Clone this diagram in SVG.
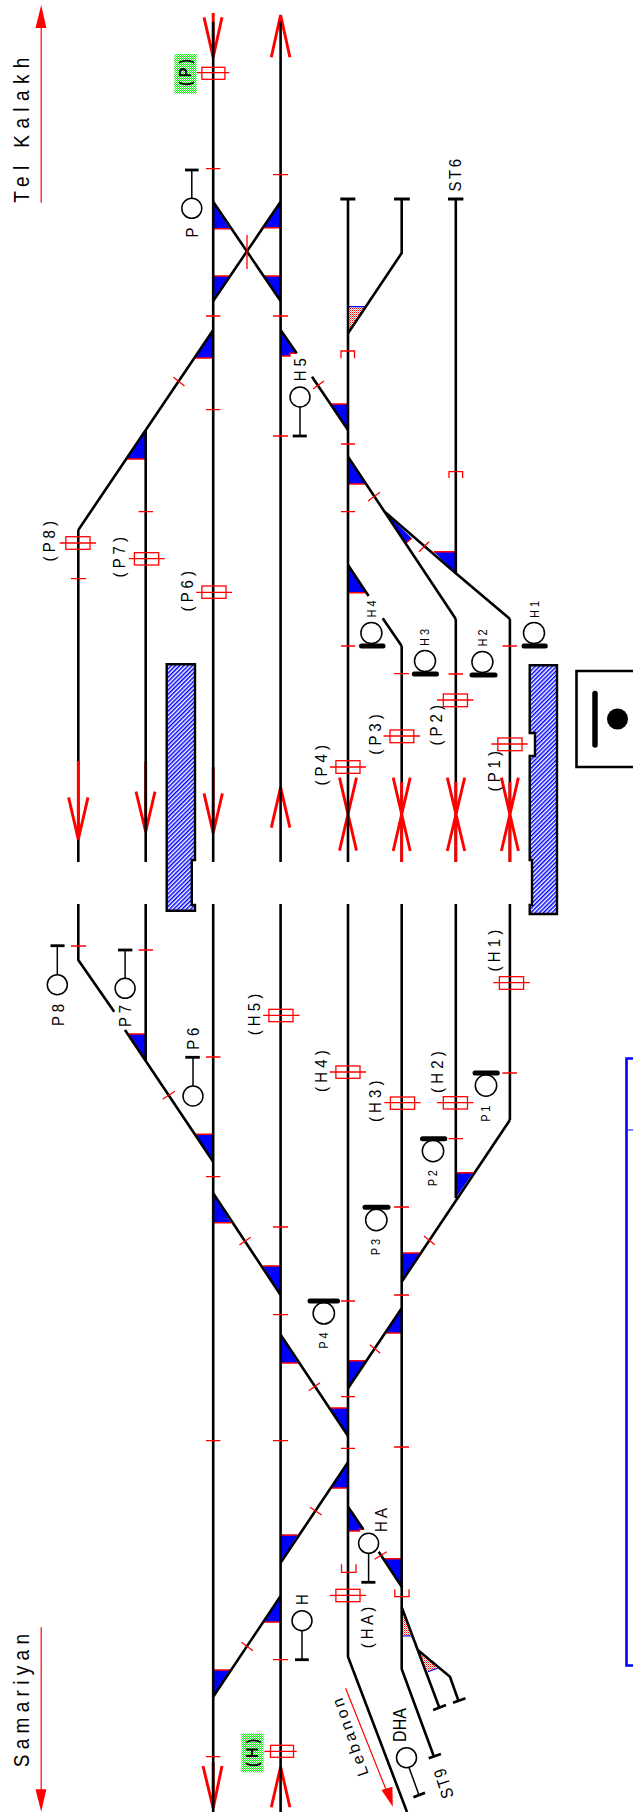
<svg xmlns="http://www.w3.org/2000/svg" width="633" height="1812" viewBox="0 0 633 1812">
<style>
.t{fill:none;stroke:#000;stroke-width:2.6;stroke-linejoin:miter}
.r{fill:none;stroke:#f00;stroke-width:1.3}
.a{fill:none;stroke:#f00;stroke-width:2.9}
.rf{fill:#f00;stroke:none}
.tri{fill:#00f;stroke:none}
.base{fill:none;stroke:#f00;stroke-width:1.4}
.bb{fill:none;stroke:#00f;stroke-width:1.2}
.ph{fill:url(#pink)}
.rc{fill:none;stroke:#f00;stroke-width:1.3}
.s{fill:#fff;stroke:#000;stroke-width:1.5}
.st{fill:none;stroke:#000;stroke-width:1.5}
.bar{fill:none;stroke:#000;stroke-width:2.8}
.bar5{fill:none;stroke:#000;stroke-width:5;stroke-linecap:round}
.pl{fill:url(#hatch);stroke:#000;stroke-width:2.4}
text{font-family:"Liberation Sans",Arial,sans-serif;fill:#000;text-anchor:middle;white-space:pre}
.l{font-size:15px}
.m{font-size:11px}
.big{font-size:19px}
.bd{font-size:14.5px;font-weight:bold}
</style>
<defs>
<pattern id="hatch" width="3" height="3" patternUnits="userSpaceOnUse" patternTransform="rotate(45)"><rect width="3" height="3" fill="#fff"/><rect width="1.5" height="3" fill="#00f"/></pattern>
<pattern id="pink" width="2" height="2" patternUnits="userSpaceOnUse"><rect width="2" height="2" fill="#fff"/><rect width="1" height="1" fill="#f00"/><rect x="1" y="1" width="1" height="1" fill="#f88"/></pattern>
<pattern id="green" width="2" height="2" patternUnits="userSpaceOnUse"><rect width="2" height="2" fill="#fff"/><rect width="1" height="1" fill="#0f0"/><rect x="1" y="1" width="1" height="1" fill="#0f0"/></pattern>
</defs>

<g id="platforms">
<path id="platform-north" class="pl" d="M166.7 664.3H195V860H191.8V905H195V910.7H166.7Z"/>
<path id="platform-south" class="pl" d="M529.7 665.3H557V914H529.7V905H532V860H529.7V756H535V733H529.7Z"/>
</g>

<g id="station-box">
<path d="M633 671H576.5V767H633" fill="none" stroke="#000" stroke-width="2.6"/>
<path d="M595 693.5V745" fill="none" stroke="#000" stroke-width="5.5" stroke-linecap="round"/>
<circle cx="617.5" cy="719" r="10.5" fill="#000"/>
</g>

<g id="legend-frame">
<path d="M633 1058.5H626.5V1665.5H633" fill="none" stroke="#00f" stroke-width="2.6"/>
<path d="M628 1130H633" fill="none" stroke="#00f" stroke-width="1"/>
</g>

<g id="switch-marks">
<path class="tri" d="M213.2 203V228.7H230Z"/>
<path class="tri" d="M280.6 203V227.7H264Z"/>
<path class="tri" d="M213.2 300V276H230Z"/>
<path class="tri" d="M280.6 300V276H264Z"/>
<path class="tri" d="M213.2 330V358H195Z"/>
<path class="tri" d="M145.7 430V459H127Z"/>
<path class="tri" d="M280.6 330L296.7 353.3H290V356H280.6Z"/>
<path class="tri" d="M348 430V404H331Z"/>
<path class="tri" d="M348 457.3V484H365.4Z"/>
<path class="tri" d="M383.5 510.7L411.8 538.3L405.7 543.3Z"/>
<path class="tri" d="M455.8 573.3V551.7H434Z"/>
<path class="tri" d="M348 565V592.7H365.4Z"/>
<path class="tri" d="M145.7 1060V1034H128.4Z"/>
<path class="tri" d="M213.2 1161.7V1134.3H195.8Z"/>
<path class="tri" d="M455.8 1198V1172.7H473Z"/>
<path class="tri" d="M213.2 1193.3V1222.7H231Z"/>
<path class="tri" d="M280.6 1295V1266H263Z"/>
<path class="tri" d="M401.7 1281.7V1253H419.8Z"/>
<path class="tri" d="M401.7 1308.3V1333H386.3Z"/>
<path class="tri" d="M348 1388.3V1360.7H365.4Z"/>
<path class="tri" d="M280.6 1334.7V1363H298Z"/>
<path class="tri" d="M348 1436V1408H330.2Z"/>
<path class="tri" d="M348 1462.3V1488H331Z"/>
<path class="tri" d="M280.6 1562.7V1535H297.5Z"/>
<path class="tri" d="M348 1507L363.3 1529.3H359.5V1531H348Z"/>
<path class="tri" d="M401.7 1586.7V1558.7H383.5Z"/>
<path class="tri" d="M280.6 1596V1622H263.2Z"/>
<path class="tri" d="M213.2 1696.7V1670H230Z"/>
<path class="ph" d="M348 333V306.7H365Z"/>
<path class="ph" d="M401.7 1607.3V1636H411Z"/>
<path class="ph" d="M417.8 1650L428 1671.7L437.6 1668.3Z"/>
<path class="base" d="M213 228.7H230M264 227.7H281M213 276H230M264 276H281M195 358H213M127 459H146M281 356H290V353.3H296.7M331 404H348M348 484H365.4M405.7 543.3L411.8 538.3M434 551.7H456M348 592.7H365.4M128.4 1034H145.7L128.4 1034M213 1134.3H195.8M455.8 1172.7H473M213 1222.7H231M263 1266H281M401.7 1253H419.8M386.3 1333H402M348 1360.7H365.4M280.6 1363H298M330.2 1408H348M331 1488H348M280.6 1535H297.5M383.5 1558.7H402M263.2 1622H281M213 1670H230M348 1531H359.5V1529.3H363.3L348 1507M128.4 1034L145.7 1060"/>
<path class="bb" d="M348 306.7H365M401.7 1636H411M428 1671.7L437.6 1668.3"/>
</g>

<g id="arrows-under">
<path class="a" d="M213.2 13V57M204 17.3L213.2 57.3L222 17.3"/>
<path class="a" d="M271.3 57.3L280.6 15L289.9 57.3"/>
<path class="a" d="M145.7 762V831M136 791.7L145.7 831.7L155 791.7"/>
<path class="a" d="M213.2 767V833M204 793.3L213.2 833L222.4 793.3"/>
<path class="a" d="M271.3 827.7L280.6 787.3L289.9 827.7"/>
<path class="a" d="M213.2 1762V1808M203 1766L213.2 1808.3L222 1766"/>
<path class="a" d="M271.3 1807.3L280.6 1766.7L289.9 1807.3"/>
<path class="a" d="M339.5 777.7L356.5 850.7M356.5 777.7L339.5 850.7"/>
</g>

<g id="connectors">
<path class="t" d="M78.3 530V862M78.3 904V960L114.2 1011.7M125 1030L213.2 1161.7M78.3 530L213.2 330"/>
<path class="t" d="M145.7 430V862M145.7 904V1060"/>
<path class="t" d="M213.2 21.7V862M213.2 904V1812"/>
<path class="t" d="M280.6 21.7V862M280.6 904V1812"/>
<path class="t" d="M348 199V862M348 904V1656.7L407 1812"/>
<path class="t" d="M401.7 199V253L348 333.3M401.7 646V862M401.7 904V1669L434 1756.7"/>
<path class="t" d="M455.8 199V573.3M455.8 619V862M455.8 904V1198.3"/>
<path class="t" d="M509.9 619V862M509.9 904V1120"/>
<path class="t" d="M213.2 201.7L280.6 301M280.6 201.7L213.2 301"/>
<path class="t" d="M280.6 330L296.7 353.3M348 430L312 376.7"/>
<path class="t" d="M348 456.7L455.8 619M383.5 510.7L455.8 573.3L510 619"/>
<path class="t" d="M348 565L368.6 596M382.7 618.3L401.7 646"/>
<path class="t" d="M509.9 1120L401.7 1281.7"/>
<path class="t" d="M213.2 1193.3L280.6 1295M280.6 1334.7L348 1436M348 1388.3L401.7 1308.3M348 1462.3L280.6 1562.7M280.6 1596L213.2 1696.7"/>
<path class="t" d="M348 1506.7L363.3 1529.3M401.7 1586.7L378.7 1551.7"/>
<path class="t" d="M401.7 1607.3L439.2 1707.3M417.8 1650L450 1676.7L458.2 1700"/>
<path class="t" d="M433.2 1710L446 1705M453 1702.7L465.5 1698.3M428.7 1758.3L440.9 1754"/>
<path class="bar" d="M340.3 199H355.3M394 199H409.8M448 199H463.4"/>
</g>

<g id="arrows-over">
<path class="a" d="M78.3 761V838M68.6 797.3L78.3 839.3L88 797.3"/>
<path class="a" d="M393.2 777.7L410.2 851M410.2 777.7L393.2 851M401.7 782V862"/>
<path class="a" d="M447.3 777.7L464.7 851M464.7 777.7L447.3 851M455.8 782V862"/>
<path class="a" d="M501.4 777.7L518.4 851M518.4 777.7L501.4 851M509.9 782V862"/>
</g>

<g id="ticks">
<path class="r" d="M206 168.7H220.4M273 174.7H288M247 235V269M206 316H220.4M273 316H288M206 409.7H220.4M273 436H288M173.6 377.3L184.5 386M313 389L324 381M341 444H355M368 501L380 492.3M341 511.7H355M138.5 511.7H153M71 578.7H86M419 551.7L429 541.7M341 646H355M394 673.7H409M448.5 674H463M502.5 646H517M71 946H86M138.5 950H153M206 1057H220.4M162.7 1099.3L174.8 1091.3M206 1176.7H220.4M502.5 1073H517M448.5 1138.7H463M394 1207H409M424 1236L434.8 1244.7M273 1227H288M239.4 1245L250.7 1237.3M394 1295H409M341 1301H355M273 1314.7H288M369.8 1344.7L380.3 1353.3M308.8 1390.7L320 1382.7M341 1396.7H355M206 1440.7H220.4M273 1440.7H288M394 1447H409M341 1448.3H355M310 1507.3L321.7 1515M374.6 1559.3L386.7 1551.7M241.4 1642.3L253 1650.7M273 1659.7H288M206 1756.7H220.4"/>
<path class="rc" d="M341 358.3V351H354.5V358.3M449 478V471.7H462.6V478M341.5 1564.3V1572.3H356V1564.3M394.8 1589.3V1596.7H409V1589.3"/>
</g>

<g id="direction-tel-kalakh">
<path fill="none" stroke="#f00" stroke-width="1.2" d="M41.2 202.7V26"/>
<path class="rf" d="M41.2 5L46.4 28H35.5Z"/>
<text class="big" letter-spacing="6.4" transform="translate(29,127) rotate(-90) scale(1,1.15)">Tel Kalakh</text>
</g>
<g id="direction-samariyan">
<path fill="none" stroke="#f00" stroke-width="1.2" d="M41.2 1627.3V1791"/>
<path class="rf" d="M41.2 1811.7L46.4 1789.3H35.5Z"/>
<text class="big" letter-spacing="5.3" transform="translate(29,1698) rotate(-90) scale(1,1.15)">Samariyan</text>
</g>
<g id="direction-lebanon">
<path fill="none" stroke="#f00" stroke-width="1.2" d="M345.6 1688.3L389 1797"/>
<path class="rf" d="M392.8 1806.7L381.5 1790L392.4 1786.7Z"/>
<text style="font-size:16px" letter-spacing="3.2" transform="translate(354.9,1734) rotate(-109)">Lebanon</text>
</g>

<g id="signal-P"><path class="st" d="M191.8 170V198"/><path class="bar" d="M185 170H198.6"/><circle class="s" cx="191.8" cy="208.3" r="10"/><text class="l" transform="translate(198,232.5) rotate(-90) scale(1,1.15)">P</text></g>
<g id="signal-H5"><path class="st" d="M300 407V436"/><path class="bar" d="M292.7 436H306.8"/><circle class="s" cx="300" cy="397" r="10"/><text class="l" transform="translate(306,369.7) rotate(-90) scale(1,1.15)">H 5</text></g>
<g id="signal-H4"><circle class="s" cx="371.4" cy="633" r="10.5"/><path class="bar5" d="M361.5 646H383"/><text class="m" transform="translate(376,609) rotate(-90) scale(1,1.15)">H 4</text></g>
<g id="signal-H3"><circle class="s" cx="425" cy="661" r="10.5"/><path class="bar5" d="M414.3 674H436.5"/><text class="m" transform="translate(429.3,637.5) rotate(-90) scale(1,1.15)">H 3</text></g>
<g id="signal-H2"><circle class="s" cx="482.4" cy="662" r="10.5"/><path class="bar5" d="M472 675H495"/><text class="m" transform="translate(487,638) rotate(-90) scale(1,1.15)">H 2</text></g>
<g id="signal-H1"><circle class="s" cx="534" cy="633" r="10.5"/><path class="bar5" d="M524 646H545.3"/><text class="m" transform="translate(538.6,609.5) rotate(-90) scale(1,1.15)">H 1</text></g>
<g id="signal-P8"><path class="st" d="M57.3 945.7V975"/><path class="bar" d="M50.5 945.7H64.6"/><circle class="s" cx="57.3" cy="984.7" r="10"/><text class="l" transform="translate(63.5,1015) rotate(-90) scale(1,1.15)">P 8</text></g>
<g id="signal-P7"><path class="st" d="M125.1 950V978"/><path class="bar" d="M118 950H132.4"/><circle class="s" cx="125.1" cy="988.3" r="10"/><text class="l" transform="translate(131.3,1016) rotate(-90) scale(1,1.15)">P 7</text></g>
<g id="signal-P6"><path class="st" d="M193 1057.3V1086"/><path class="bar" d="M185.3 1057.3H199.8"/><circle class="s" cx="193" cy="1096" r="10"/><text class="l" transform="translate(199.3,1038.7) rotate(-90) scale(1,1.15)">P 6</text></g>
<g id="signal-P1"><circle class="s" cx="486" cy="1085.5" r="10.7"/><path class="bar5" d="M475 1073H497.3"/><text class="m" transform="translate(489.6,1113.7) rotate(-90) scale(1,1.15)">P 1</text></g>
<g id="signal-P2"><circle class="s" cx="433" cy="1151" r="10.7"/><path class="bar5" d="M422.5 1138.7H444.8"/><text class="m" transform="translate(437,1178.2) rotate(-90) scale(1,1.15)">P 2</text></g>
<g id="signal-P3"><circle class="s" cx="376.3" cy="1220" r="10.7"/><path class="bar5" d="M365 1207.3H388"/><text class="m" transform="translate(380,1247) rotate(-90) scale(1,1.15)">P 3</text></g>
<g id="signal-P4"><circle class="s" cx="323.8" cy="1313.3" r="10.7"/><path class="bar5" d="M310 1301H337.5"/><text class="m" transform="translate(327.6,1340.5) rotate(-90) scale(1,1.15)">P 4</text></g>
<g id="signal-HA"><path class="st" d="M368.6 1553V1582.3"/><path class="bar" d="M361.3 1582.3H375.4"/><circle class="s" cx="368.6" cy="1543.3" r="10"/><text class="l" transform="translate(386.5,1520) rotate(-90) scale(1,1.15)">H A</text></g>
<g id="signal-H"><path class="st" d="M302 1630.7V1659.7"/><path class="bar" d="M295 1659.7H308.8"/><circle class="s" cx="302" cy="1620.7" r="10"/><text class="l" transform="translate(308,1599.5) rotate(-90) scale(1,1.15)">H</text></g>
<g id="signal-DHA"><path class="st" d="M409 1767.5L419 1795"/><path class="bar" d="M413.4 1797.3L425 1792.7"/><circle class="s" cx="406.5" cy="1757.7" r="10"/><text style="font-size:16px" transform="translate(406.3,1725) rotate(-90) scale(1,1.15)">DHA</text></g>
<g id="label-ST9"><text style="font-size:15px" letter-spacing="1.5" transform="translate(449.1,1781) rotate(-108) scale(1,1.15)">ST9</text></g>
<g id="label-ST6"><text style="font-size:15px" letter-spacing="2.5" transform="translate(460.5,174) rotate(-90) scale(1,1.15)">ST6</text></g>

<g id="circuit-P"><rect x="174.4" y="54" width="22.2" height="39.7" fill="url(#green)"/><rect class="rc" x="201.9" y="67.3" width="23" height="12"/><path class="r" d="M197 72.7H229.3"/><text class="bd" transform="translate(191.3,72.5) rotate(-90) scale(1,1.15)">( P )</text></g>
<g id="circuit-H"><rect x="241.4" y="1733.3" width="22.2" height="39" fill="url(#green)"/><rect class="rc" x="270.5" y="1745.3" width="23" height="12"/><path class="r" d="M264.4 1751.3H296.7"/><text class="bd" transform="translate(258.3,1752.8) rotate(-90) scale(1,1.15)">( H )</text></g>
<g id="circuit-P8"><rect class="rc" x="65.8" y="536.7" width="24.2" height="12.6"/><path class="r" d="M59.7 543H96"/><text class="l" transform="translate(54.6,541.2) rotate(-90) scale(1,1.15)">( P 8 )</text></g>
<g id="circuit-P7"><rect class="rc" x="134.4" y="552.7" width="24.3" height="12.3"/><path class="r" d="M128.8 558.7H164.7"/><text class="l" transform="translate(125.2,557.2) rotate(-90) scale(1,1.15)">( P 7 )</text></g>
<g id="circuit-P6"><rect class="rc" x="201.9" y="586" width="24.1" height="12.3"/><path class="r" d="M196.2 592.3H232.1"/><text class="l" transform="translate(192.7,591.2) rotate(-90) scale(1,1.15)">( P 6 )</text></g>
<g id="circuit-P4"><rect class="rc" x="335.9" y="760.7" width="24.1" height="12.6"/><path class="r" d="M329.8 767H366"/><text class="l" transform="translate(327.2,765.3) rotate(-90) scale(1,1.15)">( P 4 )</text></g>
<g id="circuit-P3"><rect class="rc" x="390" y="730" width="23.8" height="12.7"/><path class="r" d="M383.5 736H420"/><text class="l" transform="translate(380.8,734.5) rotate(-90) scale(1,1.15)">( P 3 )</text></g>
<g id="circuit-P2"><rect class="rc" x="443.3" y="694" width="24.2" height="12.7"/><path class="r" d="M437 700H473.5"/><text class="l" transform="translate(442.2,725.3) rotate(-90) scale(1,1.15)">( P 2 )</text></g>
<g id="circuit-P1"><rect class="rc" x="497.8" y="738" width="24.2" height="12.7"/><path class="r" d="M491.3 744H527.7"/><text class="l" transform="translate(499.5,771.2) rotate(-90) scale(1,1.15)">( P 1 )</text></g>
<g id="circuit-H1"><rect class="rc" x="499.4" y="976.7" width="24.2" height="12.6"/><path class="r" d="M493.3 982.7H529.7"/><text class="l" transform="translate(499.5,950.7) rotate(-90) scale(1,1.15)">( H 1 )</text></g>
<g id="circuit-H5"><rect class="rc" x="268.9" y="1009.3" width="24.1" height="12.4"/><path class="r" d="M263.2 1015.3H299.5"/><text class="l" transform="translate(259.7,1014.5) rotate(-90) scale(1,1.15)">( H 5 )</text></g>
<g id="circuit-H4"><rect class="rc" x="335.9" y="1066" width="24.1" height="12.3"/><path class="r" d="M329.8 1072H366"/><text class="l" transform="translate(327.2,1071.2) rotate(-90) scale(1,1.15)">( H 4 )</text></g>
<g id="circuit-H3"><rect class="rc" x="390.4" y="1097" width="24.2" height="12.3"/><path class="r" d="M384.3 1102.7H420.6"/><text class="l" transform="translate(380.8,1101.3) rotate(-90) scale(1,1.15)">( H 3 )</text></g>
<g id="circuit-H2"><rect class="rc" x="443.3" y="1096.7" width="24.2" height="12.3"/><path class="r" d="M437 1102.7H473.5"/><text class="l" transform="translate(443,1072.2) rotate(-90) scale(1,1.15)">( H 2 )</text></g>
<g id="circuit-HA"><rect class="rc" x="335.9" y="1589.3" width="24.1" height="12.4"/><path class="r" d="M329.8 1595.3H366"/><text class="l" transform="translate(372.8,1627.5) rotate(-90) scale(1,1.15)">( H A )</text></g>
</svg>
